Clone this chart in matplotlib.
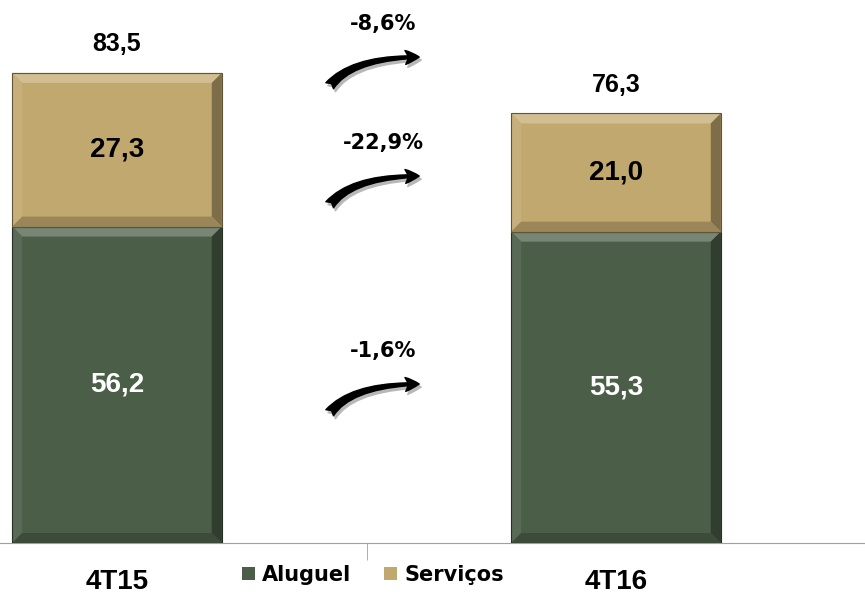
import matplotlib.pyplot as plt
from matplotlib.patches import Polygon, FancyArrowPatch
from matplotlib.colors import to_rgb
import numpy as np

categorias = ['4T15', '4T16']
aluguel = [56.2, 55.3]
servicos = [27.3, 21.0]
totais = [83.5, 76.3]
variacoes = ['-8,6%', '-22,9%', '-1,6%']

cor_aluguel = '#4b5e48'
cor_servicos = '#c1a86e'


def misturar(cor, alvo, f):
    c = np.array(to_rgb(cor))
    return tuple(c + (np.array(to_rgb(alvo)) - c) * f)


def bisel(ax, barra, cor, bx, by):
    # bordas em relevo como no grafico original
    x0, y0 = barra.get_x(), barra.get_y()
    x1, y1 = x0 + barra.get_width(), y0 + barra.get_height()
    lados = [
        ([(x0, y1), (x1, y1), (x1 - bx, y1 - by), (x0 + bx, y1 - by)], misturar(cor, 'white', 0.25)),
        ([(x0, y0), (x0, y1), (x0 + bx, y1 - by), (x0 + bx, y0 + by)], misturar(cor, 'white', 0.08)),
        ([(x1, y0), (x1, y1), (x1 - bx, y1 - by), (x1 - bx, y0 + by)], misturar(cor, 'black', 0.35)),
        ([(x0, y0), (x1, y0), (x1 - bx, y0 + by), (x0 + bx, y0 + by)], misturar(cor, 'black', 0.2)),
    ]
    for pts, c in lados:
        ax.add_patch(Polygon(pts, closed=True, facecolor=c, edgecolor='none', zorder=3))
    ax.add_patch(plt.Rectangle((x0, y0), x1 - x0, y1 - y0, fill=False,
                               edgecolor=misturar(cor, 'black', 0.5), lw=0.8, zorder=4))


fig = plt.figure(figsize=(8.65, 5.98), dpi=100)
ax = fig.add_axes([0, 55 / 598, 1, 543 / 598])

x = np.arange(len(categorias))
largura = 0.42
b1 = ax.bar(x, aluguel, largura, color=cor_aluguel, label='Aluguel', zorder=2)
b2 = ax.bar(x, servicos, largura, bottom=aluguel, color=cor_servicos, label='Serviços', zorder=2)

ax.set_xlim(-117 / 499, (865 - 117) / 499)
ax.set_ylim(0, 543 / 5.63)

bx, by = 10 / 499, 10 / 5.63
for b in b1:
    bisel(ax, b, cor_aluguel, bx, by)
for b in b2:
    bisel(ax, b, cor_servicos, bx, by)

for i in range(len(categorias)):
    ax.text(x[i], aluguel[i] / 2, f'{aluguel[i]:.1f}'.replace('.', ','), ha='center', va='center',
            color='white', fontsize=20, fontweight='bold', family='Liberation Sans', zorder=5)
    ax.text(x[i], aluguel[i] + servicos[i] / 2, f'{servicos[i]:.1f}'.replace('.', ','), ha='center',
            va='center', color='black', fontsize=20, fontweight='bold', family='Liberation Sans', zorder=5)
    ax.annotate(f'{totais[i]:.1f}'.replace('.', ','), (x[i], totais[i]), xytext=(0, 12),
                textcoords='offset points', ha='center', va='bottom', fontsize=18,
                fontweight='bold', family='Liberation Sans')

# eixo
for s in ['top', 'right', 'left']:
    ax.spines[s].set_visible(False)
ax.spines['bottom'].set_color('#a0a0a0')
ax.set_yticks([])
ax.set_xticks(x)
ax.set_xticklabels(categorias, fontsize=20, fontweight='bold', family='Liberation Sans')
ax.tick_params(axis='x', length=0, pad=19)
ax.set_xticks([0.5], minor=True)
ax.tick_params(axis='x', which='minor', length=12, color='#a0a0a0')

# setas de variacao
setas_y = [88, 207, 415]
for txt, yy in zip(variacoes, setas_y):
    for dx, dy, c, z in [(2, 3, '#b8b8b8', 5), (0, 0, 'black', 6)]:
        p0 = ((328 + dx) / 865, 1 - (yy + dy) / 598)
        p1 = ((422 + dx) / 865, 1 - (yy - 31 + dy) / 598)
        seta = FancyArrowPatch(p0, p1, transform=fig.transFigure,
                               connectionstyle='angle3,angleA=55,angleB=0',
                               arrowstyle='fancy,head_length=1.0,head_width=1.0,tail_width=0.7',
                               mutation_scale=10, color=c, zorder=z)
        fig.add_artist(seta)
    fig.text(383 / 865, 1 - (yy - 64) / 598, txt, ha='center', va='center',
             fontsize=15, fontweight='bold')

fig.legend(handles=[b1, b2], labels=['Aluguel', 'Serviços'], loc='center',
           bbox_to_anchor=(373 / 865, 1 - 575 / 598), ncol=2, frameon=False,
           prop={'size': 15, 'weight': 'bold'}, handlelength=0.6, handleheight=0.6,
           handletextpad=0.35, columnspacing=1.6)

fig.savefig('out.png', dpi=100)
